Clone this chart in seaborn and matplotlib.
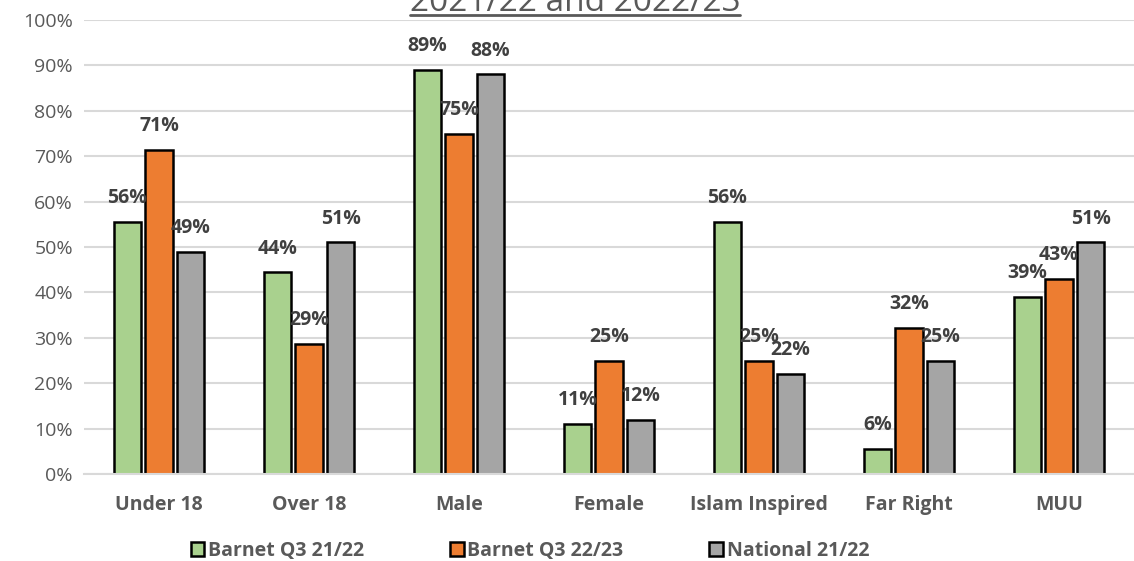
import matplotlib
matplotlib.use("Agg")
import matplotlib.pyplot as plt
from matplotlib.lines import Line2D
import seaborn as sns
import pandas as pd

categories = ["Under 18", "Over 18", "Male", "Female", "Islam Inspired", "Far Right", "MUU"]
series_names = ["Barnet Q3 21/22", "Barnet Q3 22/23", "National 21/22"]
barnet_2122 = [0.556, 0.444, 0.89, 0.111, 0.556, 0.056, 0.39]
barnet_2223 = [0.714, 0.286, 0.75, 0.25, 0.25, 0.321, 0.43]
national_2122 = [0.49, 0.51, 0.88, 0.12, 0.22, 0.25, 0.51]
yticks = [0, 0.1, 0.2, 0.3, 0.4, 0.5, 0.6, 0.7, 0.8, 0.9, 1.0]
title_text = "2021/22 and 2022/23"

colors = ["#A9D18E", "#ED7D31", "#A5A5A5"]

rows = []
for name, vals in zip(series_names, [barnet_2122, barnet_2223, national_2122]):
    for c, v in zip(categories, vals):
        rows.append({"Category": c, "Series": name, "Value": v})
df = pd.DataFrame(rows)

sns.set_theme(style="white")
plt.rcParams["font.family"] = ["Open Sans", "DejaVu Sans"]

fig = plt.figure(figsize=(11.34, 5.61), dpi=100)
ax = fig.add_axes([84 / 1134, 1 - 474 / 561, 1 - 84 / 1134, (474 - 20) / 561])

sns.barplot(data=df, x="Category", y="Value", hue="Series", order=categories,
            hue_order=series_names, palette=colors, edgecolor="black",
            linewidth=1.8, width=0.63, gap=0.14, saturation=1, ax=ax)

ax.set_ylim(0, 1.0)
ax.set_yticks(yticks)
ax.set_yticklabels([f"{t:.0%}" for t in yticks], fontsize=14, color="#595959")
ax.set_xlabel("")
ax.set_ylabel("")
ax.tick_params(axis="x", length=0, labelsize=14, labelcolor="#595959", pad=15)
ax.tick_params(axis="y", length=0, pad=8)
for lab in ax.get_xticklabels():
    lab.set_fontweight("bold")
ax.yaxis.grid(True, color="#D9D9D9", linewidth=1.5)
ax.set_axisbelow(True)
for s in ["top", "right", "left"]:
    ax.spines[s].set_visible(False)
ax.spines["bottom"].set_color("#D9D9D9")
ax.spines["bottom"].set_linewidth(1.5)
ax.set_xlim(-0.5, len(categories) - 0.5)

for cont in ax.containers:
    vals = [b.get_height() for b in cont]
    ax.bar_label(cont, labels=[f"{v:.0%}" for v in vals], padding=10,
                 fontsize=14, fontweight="bold", color="#404040")

handles, labels = ax.get_legend_handles_labels()
ax.legend_.remove()
leg = fig.legend(handles, labels, loc="center", bbox_to_anchor=(530 / 1134, 1 - 551 / 561),
                 ncol=3, frameon=False, handlelength=0.7, handleheight=0.7,
                 handletextpad=0.2, columnspacing=4.4,
                 prop={"size": 14, "weight": "bold"})
for t in leg.get_texts():
    t.set_color("#595959")
for h in leg.legend_handles:
    h.set_linewidth(1.8)

title = fig.text(575 / 1134, 1 - 11 / 561, title_text, ha="center", va="baseline",
                 fontsize=24, color="#595959")
fig.canvas.draw()
bb = title.get_window_extent().transformed(fig.transFigure.inverted())
yline = 1 - 14.5 / 561
fig.add_artist(Line2D([bb.x0, bb.x1], [yline, yline], transform=fig.transFigure,
                      color="#595959", linewidth=2))

fig.savefig("out.png", dpi=100)
